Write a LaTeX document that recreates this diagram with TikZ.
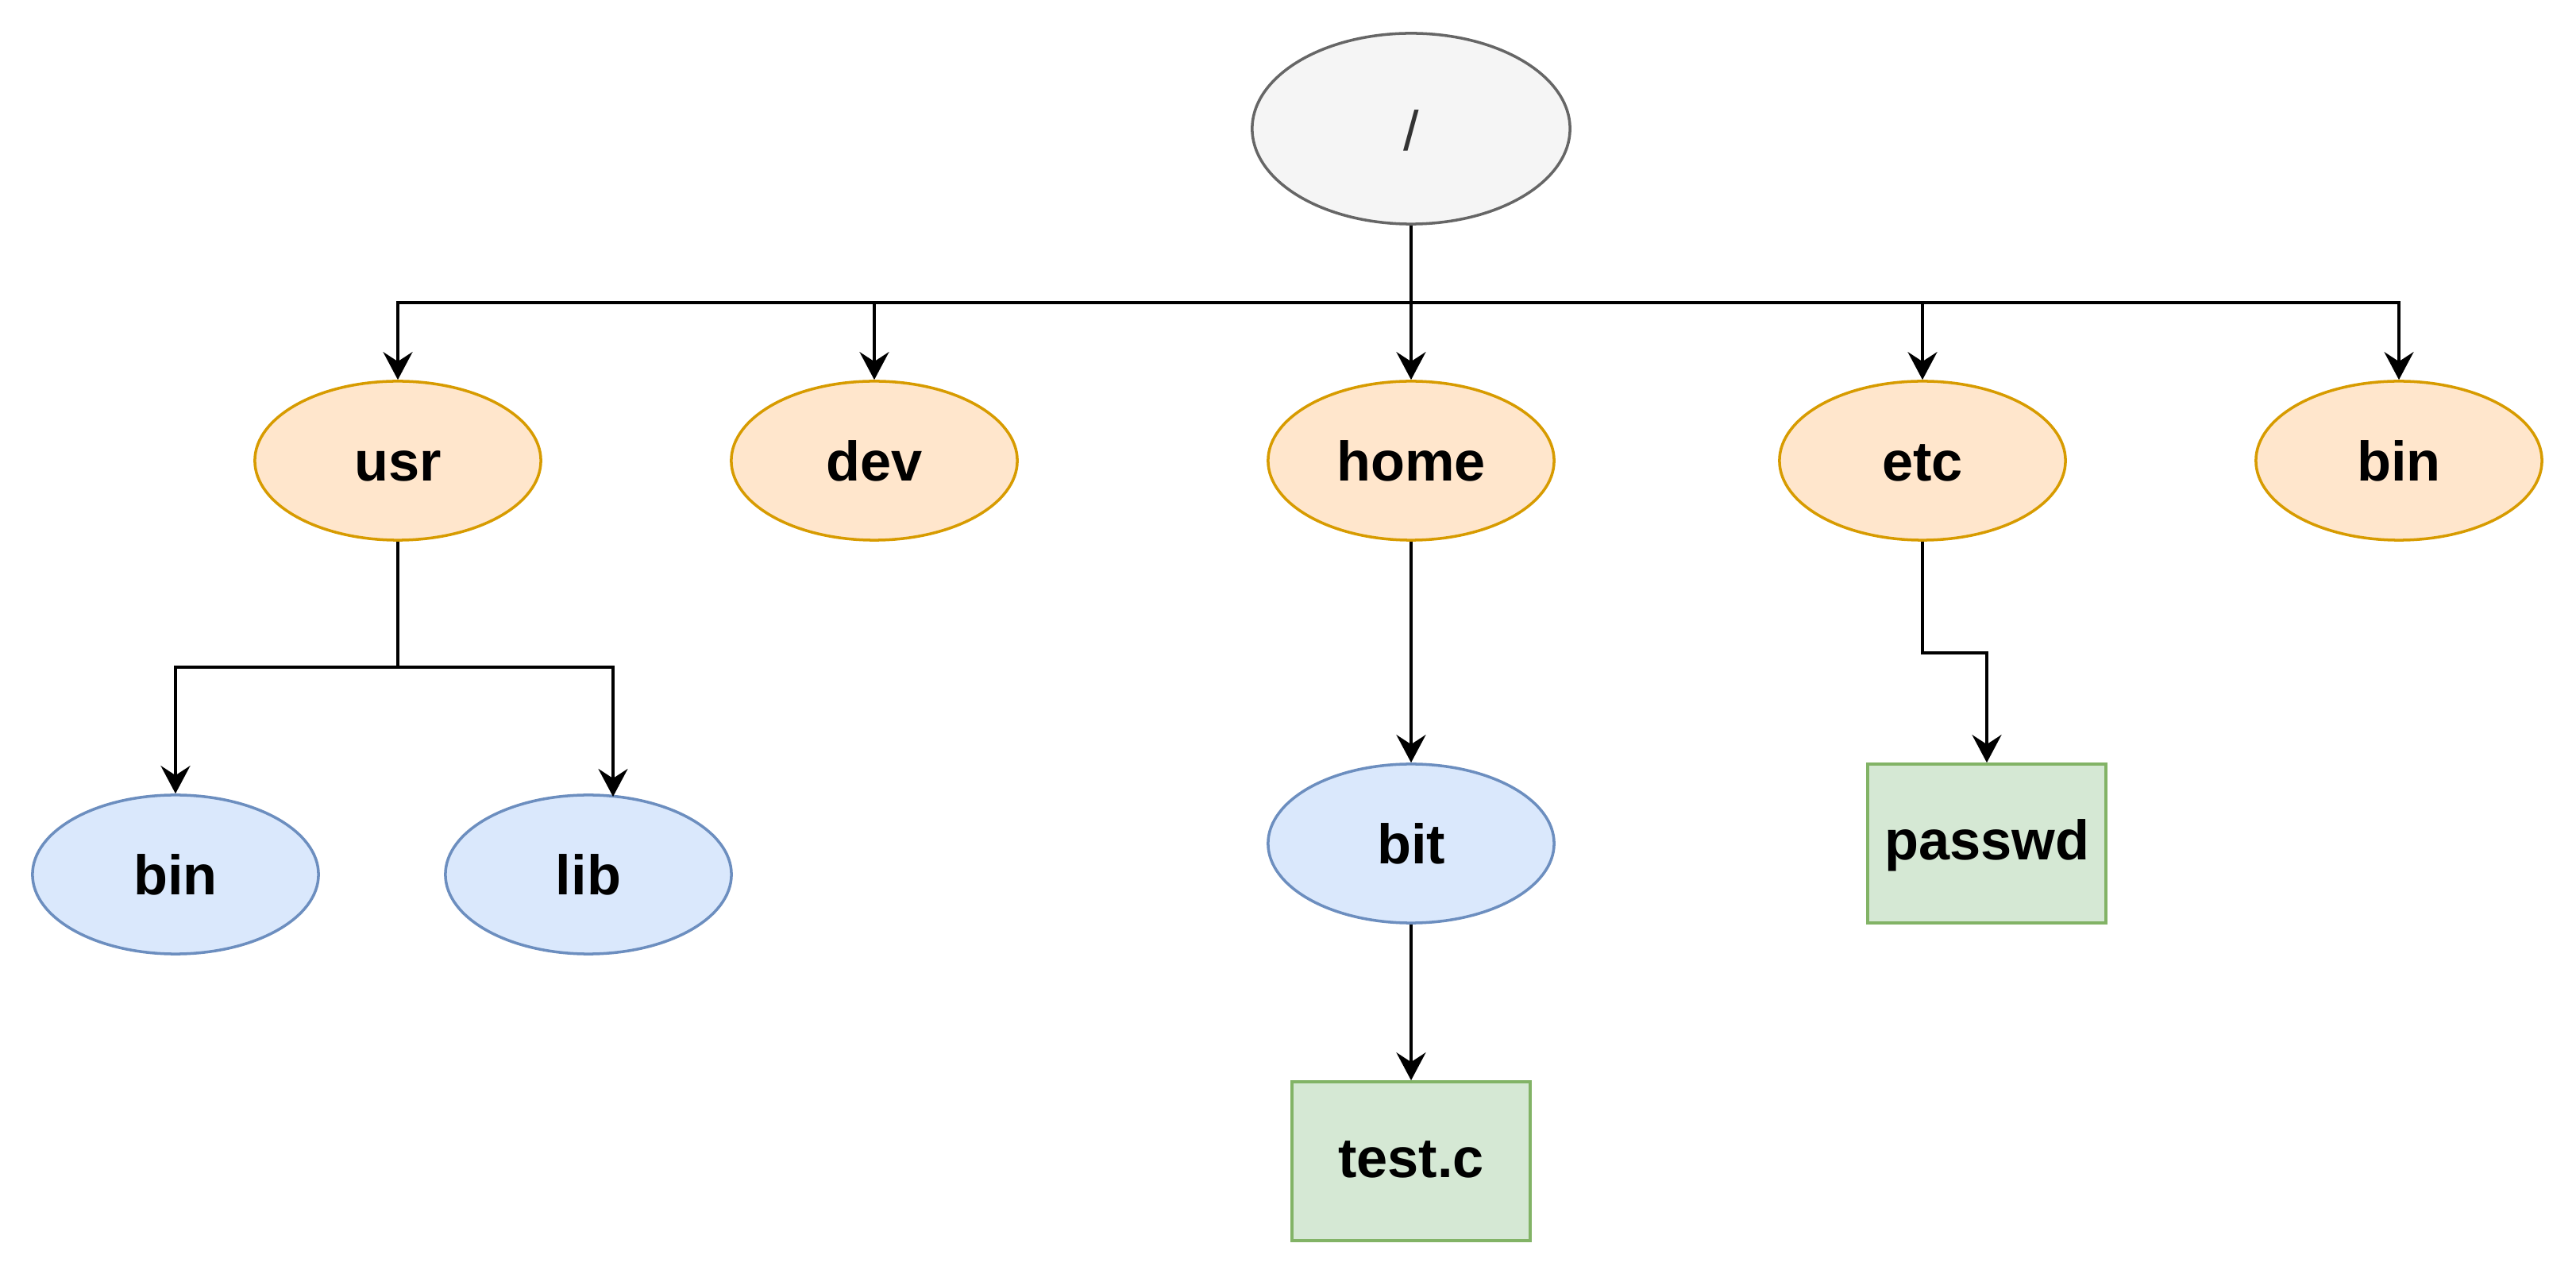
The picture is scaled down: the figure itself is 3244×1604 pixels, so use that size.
\documentclass[tikz,border=0pt]{standalone}
\usepackage{fontspec}
\setmainfont{Liberation Sans}
\usetikzlibrary{shapes.geometric, arrows.meta, positioning}
\definecolor{rootfill}{HTML}{F5F5F5}
\definecolor{rootline}{HTML}{666666}
\definecolor{roottext}{HTML}{333333}
\definecolor{dirfill}{HTML}{FFE6CC}
\definecolor{dirline}{HTML}{D79B00}
\definecolor{subfill}{HTML}{DAE8FC}
\definecolor{subline}{HTML}{6C8EBF}
\definecolor{filefill}{HTML}{D5E8D4}
\definecolor{fileline}{HTML}{82B366}

\begin{document}
\begin{tikzpicture}[
    x=0.01cm, y=-0.01cm,
    rootdir/.style={
        ellipse,
        minimum width=4cm,
        minimum height=2.4cm,
        inner sep=0pt,
        fill=rootfill,
        draw=rootline,
        line width=1pt,
        text=roottext,
        text height=0.54cm,
        text depth=0pt,
        font=\fontsize{20}{24}\selectfont
    },
    topdir/.style={
        ellipse,
        minimum width=3.6cm,
        minimum height=2cm,
        inner sep=0pt,
        fill=dirfill,
        draw=dirline,
        line width=1pt,
        text height=0.5cm,
        text depth=0pt,
        font=\bfseries\fontsize{20}{24}\selectfont
    },
    subdir/.style={
        topdir,
        fill=subfill,
        draw=subline
    },
    filebox/.style={
        rectangle,
        minimum width=3cm,
        minimum height=2cm,
        inner sep=0pt,
        fill=filefill,
        draw=fileline,
        line width=1pt,
        text height=0.4cm,
        text depth=0pt,
        font=\bfseries\fontsize{20}{24}\selectfont
    },
    link/.style={
        -{Stealth[length=0.35cm, width=0.37cm, inset=0.12cm]},
        line width=1pt
    }
]
    \useasboundingbox (0,0) rectangle (3244,1604);

    % Root
    \node[rootdir] (root) at (1777, 162) {/};

    % First level
    \node[topdir] (usr) at (501, 580) {usr};
    \node[topdir] (dev) at (1101, 580) {dev};
    \node[topdir] (home) at (1777, 580) {home};
    \node[topdir] (etc) at (2421, 580) {etc};
    \node[topdir] (bin) at (3021, 580) {bin};

    % Second level
    \node[subdir] (usrbin) at (221, 1101) {bin};
    \node[subdir] (lib) at (741, 1101) {lib};
    \node[subdir] (bit) at (1777, 1062) {bit};
    \node[filebox] (passwd) at (2502, 1062) {passwd};

    % Files
    \node[filebox] (testc) at (1777, 1462) {test.c};

    % Bends
    \coordinate (bus) at (1777, 381);
    \coordinate (usrbus) at (501, 840);
    \coordinate (etcbend) at (2421, 822);
    \coordinate (libtop) at (772, 1003);

    % Connectors
    \draw[line width=1pt] (root) -- (bus);
    \foreach \d in {usr, dev, home, etc, bin}
        \draw[link] (bus) -| (\d);
    \draw[line width=1pt] (usr) -- (usrbus);
    \draw[link] (usrbus) -| (usrbin);
    \draw[link] (usrbus) -| (libtop);
    \draw[link] (home) -- (bit);
    \draw[link] (bit) -- (testc);
    \draw[link] (etc) -- (etcbend) -| (passwd);
\end{tikzpicture}
\end{document}
